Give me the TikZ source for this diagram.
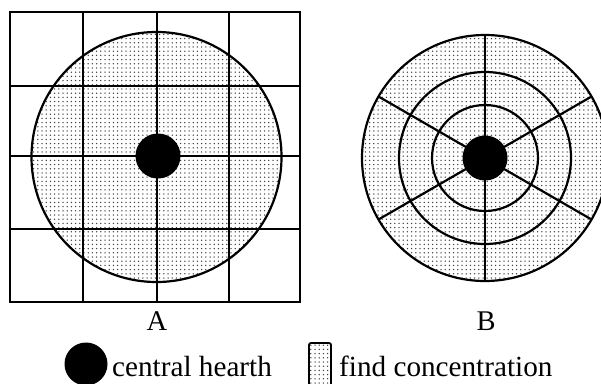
\documentclass[tikz,border=0pt]{standalone}
\usepackage{fontspec}
\setmainfont{Liberation Serif}
\usetikzlibrary{patterns.meta,calc}
\begin{document}
\begin{tikzpicture}[x=1pt,y=-1pt,
  edge/.style={line width=2.2pt},
  stipple/.style={pattern={Dots[distance=4.2pt, radius=0.75pt]}, pattern color=black!75},
  hearth/.style={circle, fill=black, inner sep=0pt, minimum size=45pt},
  lbl/.style={anchor=base, inner sep=0pt, font=\fontsize{28.5}{32}\selectfont},
  legtext/.style={anchor=base west, inner sep=0pt, font=\fontsize{29.2}{32}\selectfont}]
\useasboundingbox (0,0) rectangle (601,383);
\clip (0,0) rectangle (601,383);
% ---- Panel A ----
\fill[stipple] (156.5,157) circle[radius=125];
\coordinate (sqNW) at (10,12);
\coordinate (sqSE) at (300,302);
\draw[edge] (sqNW) rectangle (sqSE);
\foreach \x in {83,157,229} {\draw[edge] (\x,12) -- (\x,302);}
\foreach \y in {86,156,229} {\draw[edge] (10,\y) -- (300,\y);}
\draw[edge] (156.5,157) circle[radius=125];
\node[hearth] (hA) at (158,156) {};
\node[lbl] (lA) at (157,330) {A};
% ---- Panel B ----
\coordinate (cB) at (485,158);
\fill[stipple] (cB) circle[radius=123];
\foreach \r in {123,86,53} {\draw[edge] (cB) circle[radius=\r];}
\foreach \a in {30,90,150,210,270,330} {\draw[edge] ($(cB)+(\a:22)$) -- ($(cB)+(\a:123)$);}
\node[hearth] (hB) at (cB) {};
\node[lbl] (lB) at (486,330) {B};
% ---- Legend ----
\node[hearth, minimum size=43pt] (legdot) at (86,364) {};
\node[legtext] (t1) at (112,376) {central hearth};
\node[draw, stipple, line width=1.8pt, rounded corners=2pt, minimum width=22pt, minimum height=46pt, inner sep=0pt] (legbox) at (320,366) {};
\node[legtext] (t2) at (339,376) {find concentration};
\end{tikzpicture}
\end{document}
